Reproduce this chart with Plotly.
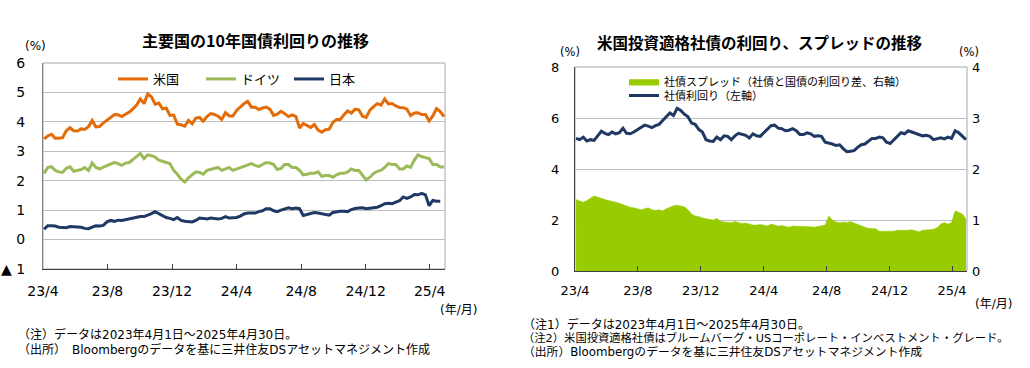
import pandas as pd
import plotly.graph_objects as go

# ---------------- data (weekly, Mondays from 2023-04-03 to 2025-04-28) ----------------
start_date = "2023-04-03"

us_10y = [
    3.42, 3.52, 3.58, 3.44,                 # 2023-04
    3.44, 3.46, 3.70, 3.80, 3.70,           # 05
    3.69, 3.76, 3.74, 3.84,                 # 06
    4.05, 3.83, 3.84, 3.96, 4.05,           # 07
    4.17, 4.25, 4.24, 4.18,                 # 08
    4.26, 4.33, 4.44, 4.57,                 # 09
    4.78, 4.62, 4.95, 4.85, 4.60,           # 10
    4.64, 4.44, 4.47, 4.22,                 # 11
    4.23, 3.92, 3.90, 3.85,                 # 12
    4.05, 3.94, 4.13, 4.15, 4.02,           # 2024-01
    4.18, 4.28, 4.25, 4.19,                 # 02
    4.08, 4.31, 4.20, 4.20,                 # 03
    4.39, 4.52, 4.62, 4.70, 4.50,           # 04
    4.50, 4.42, 4.47, 4.50,                 # 05
    4.43, 4.22, 4.26, 4.36,                 # 06
    4.28, 4.18, 4.24, 4.19, 3.79,           # 07
    3.94, 3.88, 3.81, 3.91,                 # 08
    3.72, 3.65, 3.73, 3.75, 3.98,           # 09
    4.08, 4.08, 4.24, 4.37,                 # 10
    4.30, 4.43, 4.41, 4.19,                 # 11
    4.15, 4.40, 4.52, 4.62, 4.57,           # 12
    4.78, 4.61, 4.62, 4.54,                 # 2025-01
    4.49, 4.48, 4.43, 4.21,                 # 02
    4.30, 4.31, 4.25, 4.25, 4.03,           # 03
    4.20, 4.45, 4.35, 4.18,                 # 04
]

de_10y = [
    2.25, 2.45, 2.48, 2.35,
    2.30, 2.28, 2.42, 2.47, 2.32,
    2.35, 2.38, 2.45, 2.35,
    2.60, 2.45, 2.40, 2.45, 2.50,
    2.55, 2.62, 2.58, 2.52,
    2.60, 2.62, 2.72, 2.82,
    2.93, 2.75, 2.88, 2.85, 2.80,
    2.70, 2.65, 2.62, 2.58,
    2.35, 2.22, 2.05, 1.96,
    2.10, 2.20, 2.30, 2.28, 2.22,
    2.35, 2.38, 2.40, 2.45,
    2.35, 2.40, 2.45, 2.35,
    2.40, 2.45, 2.50, 2.55, 2.58,
    2.52, 2.48, 2.55, 2.62,
    2.60, 2.55, 2.38, 2.42,
    2.55, 2.55, 2.45, 2.45, 2.35,
    2.20, 2.22, 2.25, 2.25,
    2.30, 2.15, 2.18, 2.18, 2.12,
    2.20, 2.25, 2.25, 2.30,
    2.40, 2.35, 2.35, 2.20,
    2.03, 2.12, 2.25, 2.32, 2.35,
    2.45, 2.58, 2.55, 2.55,
    2.40, 2.40, 2.50, 2.45,
    2.70, 2.88, 2.82, 2.78, 2.75,
    2.55, 2.55, 2.47, 2.47,
]

jp_10y = [
    0.35, 0.47, 0.47, 0.46,
    0.42, 0.42, 0.40, 0.44, 0.43,
    0.42, 0.42, 0.38, 0.37,
    0.42, 0.47, 0.46, 0.48, 0.60,
    0.65, 0.62, 0.66, 0.65,
    0.68, 0.70, 0.72, 0.76,
    0.78, 0.78, 0.82, 0.88, 0.95,
    0.88, 0.83, 0.75, 0.72,
    0.68, 0.75, 0.65, 0.62,
    0.62, 0.60, 0.65, 0.73, 0.72,
    0.70, 0.73, 0.72, 0.70,
    0.72, 0.78, 0.73, 0.74,
    0.75, 0.80, 0.87, 0.90, 0.90,
    0.90, 0.95, 0.98, 1.05,
    1.05, 0.98, 0.95, 1.00,
    1.05, 1.08, 1.05, 1.07, 1.05,
    0.82, 0.85, 0.88, 0.92,
    0.90, 0.88, 0.85, 0.83,
    0.92, 0.95, 0.96, 0.96,
    0.95, 1.02, 1.06, 1.07,
    1.08, 1.05, 1.06, 1.08, 1.10,
    1.15, 1.22, 1.23, 1.22,
    1.27, 1.32, 1.45, 1.40,
    1.45, 1.53, 1.52, 1.57, 1.52,
    1.15, 1.33, 1.30, 1.30,
]

ig_yield = [
    5.20, 5.15, 5.25, 5.10,
    5.15, 5.12, 5.30, 5.48, 5.40,
    5.35, 5.45, 5.38, 5.42,
    5.60, 5.40, 5.38, 5.45, 5.55,
    5.65, 5.72, 5.68, 5.62,
    5.70, 5.75, 5.90, 6.05,
    6.20, 6.10, 6.38, 6.30, 6.15,
    6.05, 5.80, 5.75, 5.55,
    5.45, 5.15, 5.10, 5.08,
    5.25, 5.15, 5.30, 5.28, 5.15,
    5.30, 5.40, 5.35, 5.32,
    5.22, 5.38, 5.30, 5.28,
    5.42, 5.55, 5.70, 5.72, 5.60,
    5.58, 5.50, 5.52, 5.58,
    5.50, 5.35, 5.35, 5.42,
    5.38, 5.28, 5.30, 5.28, 5.05,
    5.02, 4.98, 4.92, 4.95,
    4.80, 4.68, 4.70, 4.72, 4.85,
    4.95, 4.98, 5.10, 5.20,
    5.20, 5.25, 5.22, 5.05,
    5.00, 5.15, 5.30, 5.42, 5.38,
    5.50, 5.45, 5.40, 5.32,
    5.30, 5.32, 5.28, 5.15,
    5.20, 5.22, 5.18, 5.25, 5.20,
    5.50, 5.42, 5.30, 5.15,
]

ig_spread = [
    1.40, 1.38, 1.35, 1.38,
    1.42, 1.47, 1.45, 1.42, 1.40,
    1.38, 1.37, 1.35, 1.33,
    1.30, 1.28, 1.25, 1.24, 1.22,
    1.20, 1.22, 1.24, 1.20,
    1.19, 1.20, 1.18, 1.22,
    1.25, 1.28, 1.29, 1.28, 1.26,
    1.20, 1.12, 1.08, 1.07,
    1.04, 1.03, 1.02, 1.00,
    1.03, 0.98, 0.96, 0.96, 0.95,
    0.97, 0.95, 0.93, 0.94,
    0.92, 0.90, 0.90, 0.91,
    0.90, 0.88, 0.92, 0.90, 0.88,
    0.89, 0.87, 0.86, 0.88,
    0.88, 0.87, 0.88, 0.87,
    0.87, 0.86, 0.87, 0.88, 0.90,
    1.08, 1.00, 0.96, 0.95,
    0.96, 0.95, 0.97, 0.94, 0.92,
    0.88, 0.86, 0.84, 0.84,
    0.83, 0.78, 0.78, 0.79,
    0.79, 0.78, 0.80, 0.80, 0.79,
    0.80, 0.81, 0.79, 0.77,
    0.80, 0.80, 0.81, 0.82,
    0.85, 0.92, 0.95, 0.92, 0.95,
    1.18, 1.15, 1.12, 1.02,
]

x_tick_dates = ["2023-04-01", "2023-08-01", "2023-12-01", "2024-04-01",
                "2024-08-01", "2024-12-01", "2025-04-01"]
x_tick_text = ["23/4", "23/8", "23/12", "24/4", "24/8", "24/12", "25/4"]
left_y_vals = [-1, 0, 1, 2, 3, 4, 5, 6]
left_y_text = ["▲ 1", "0", "1", "2", "3", "4", "5", "6"]
x_range = ["2023-04-01", "2025-04-30"]

# ---------------- layout helpers ----------------
W, H = 1030, 368
def px(x):
    return x / W
def py(y):
    return 1 - y / H

JP = "'Noto Sans CJK JP', sans-serif"
MIX = "'DejaVu Sans', 'Noto Sans CJK JP', sans-serif"
NUM = "'DejaVu Sans', Verdana, sans-serif"

def dates_for(vals):
    return pd.date_range(start_date, periods=len(vals), freq="7D")

fig = go.Figure()

# left chart
fig.add_trace(go.Scatter(x=dates_for(us_10y), y=us_10y, name="米国", mode="lines",
                         line=dict(color="#E36C09", width=3), xaxis="x", yaxis="y",
                         legend="legend"))
fig.add_trace(go.Scatter(x=dates_for(de_10y), y=de_10y, name="ドイツ", mode="lines",
                         line=dict(color="#9BBB59", width=3), xaxis="x", yaxis="y",
                         legend="legend"))
fig.add_trace(go.Scatter(x=dates_for(jp_10y), y=jp_10y, name="日本", mode="lines",
                         line=dict(color="#1F3864", width=3), xaxis="x", yaxis="y",
                         legend="legend"))

# right chart
fig.add_trace(go.Scatter(x=dates_for(ig_spread), y=ig_spread, name="社債スプレッド（社債と国債の利回り差、右軸）",
                         mode="lines", fill="tozeroy", fillcolor="#99CC00",
                         line=dict(color="#99CC00", width=0.5), xaxis="x2", yaxis="y3",
                         legend="legend2"))
fig.add_trace(go.Scatter(x=dates_for(ig_yield), y=ig_yield, name="社債利回り（左軸）", mode="lines",
                         line=dict(color="#1F3864", width=3), xaxis="x2", yaxis="y2",
                         legend="legend3"))

L_DOM_X = [px(43), px(445)]
L_DOM_Y = [py(269), py(63)]
R_DOM_X = [px(575), px(967)]
R_DOM_Y = [py(271), py(67)]

xcommon = dict(type="date", range=x_range, tickvals=x_tick_dates, ticktext=x_tick_text,
               ticks="inside", ticklen=5, tickcolor="#404040", showgrid=False,
               showline=True, linecolor="#404040", linewidth=1.2, automargin=False,
               tickfont=dict(family=NUM, size=14, color="#000000"))

fig.update_layout(
    width=W, height=H,
    margin=dict(l=0, r=0, t=0, b=0),
    paper_bgcolor="white", plot_bgcolor="white",
    showlegend=True,
    xaxis=dict(xcommon, domain=L_DOM_X, anchor="y", ticklabelstandoff=9),
    yaxis=dict(domain=L_DOM_Y, anchor="x", range=[-1, 6], tickvals=left_y_vals,
               ticktext=left_y_text, showgrid=True, gridcolor="#BFBFBF", gridwidth=1,
               zeroline=False, showline=True, linecolor="#808080", linewidth=1,
               ticks="", ticklabelstandoff=14, automargin=False,
               tickfont=dict(family=NUM, size=14, color="#000000")),
    xaxis2=dict(xcommon, domain=R_DOM_X, anchor="y2", ticklabelstandoff=7,
                tickfont=dict(family=NUM, size=13, color="#000000")),
    yaxis2=dict(domain=R_DOM_Y, anchor="x2", range=[0, 8], tickvals=[0, 2, 4, 6, 8],
                showgrid=True, gridcolor="#BFBFBF", zeroline=False, showline=True,
                linecolor="#404040", linewidth=1, ticks="", ticklabelstandoff=12,
                automargin=False,
                tickfont=dict(family=NUM, size=13, color="#000000")),
    yaxis3=dict(overlaying="y2", anchor="x2", side="right", range=[0, 4],
                tickvals=[0, 1, 2, 3, 4], showgrid=False, zeroline=False,
                showline=False, ticks="", ticklabelstandoff=4, automargin=False,
                tickfont=dict(family=NUM, size=13, color="#000000")),
    legend=dict(orientation="h", x=px(113), y=py(64), xanchor="left", yanchor="top",
                bgcolor="rgba(0,0,0,0)", font=dict(family=JP, size=13, color="#000000"),
                entrywidth=43, entrywidthmode="pixels", itemwidth=30),
    legend2=dict(x=px(624), y=py(67), xanchor="left", yanchor="top",
                 bgcolor="rgba(0,0,0,0)", font=dict(family=JP, size=11, color="#000000")),
    legend3=dict(x=px(624), y=py(81), xanchor="left", yanchor="top",
                 bgcolor="rgba(0,0,0,0)", font=dict(family=JP, size=11, color="#000000")),
)

# frames
fig.add_shape(type="rect", xref="x domain", yref="y domain", x0=0, x1=1, y0=0, y1=1,
              line=dict(color="#A6A6A6", width=1), layer="below")
fig.add_shape(type="rect", xref="x2 domain", yref="y2 domain", x0=0, x1=1, y0=0, y1=1,
              line=dict(color="#A6A6A6", width=1), layer="below")

def txt(x, y, text, size=12, anchor="left", family=MIX):
    fig.add_annotation(x=px(x), y=py(y), xref="paper", yref="paper", text=text,
                       showarrow=False, xanchor=anchor, yanchor="middle",
                       font=dict(family=family, size=size, color="#000000"))

txt(255, 40, "<b>主要国の10年国債利回りの推移</b>", size=16, anchor="center", family=JP)
txt(759, 42, "<b>米国投資適格社債の利回り、スプレッドの推移</b>", size=15.5, anchor="center", family=JP)
txt(35, 46, "(%)", size=12, anchor="center")
txt(570, 52, "(%)", size=11.5, anchor="center")
txt(969, 52, "(%)", size=11.5, anchor="center")
txt(458, 310, "(年/月)", size=12, anchor="center")
txt(993, 304, "(年/月)", size=12, anchor="center")

txt(16, 334, "（注）データは2023年4月1日～2025年4月30日。", size=12)
txt(16, 349, "（出所）　Bloombergのデータを基に三井住友DSアセットマネジメント作成", size=12)
txt(521, 324, "（注1）データは2023年4月1日～2025年4月30日。", size=12)
txt(521, 338, "（注2）米国投資適格社債はブルームバーグ・USコーポレート・インベストメント・グレード。", size=11.3)
txt(521, 352, "（出所）Bloombergのデータを基に三井住友DSアセットマネジメント作成", size=11.8)

# remove the default 8px page margin so the figure sits at the window's top-left corner
fig.write_html("out.html", config={"displayModeBar": False},
               post_script="document.body.style.margin='0px';")
